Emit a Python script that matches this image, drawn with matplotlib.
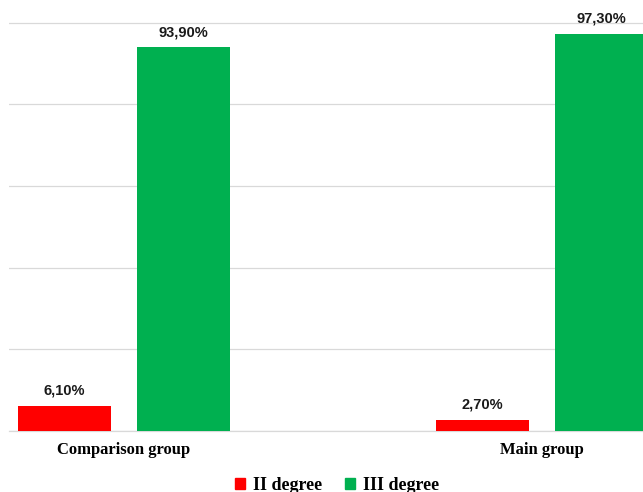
import matplotlib
matplotlib.use("Agg")
import matplotlib.pyplot as plt
from matplotlib.patches import Patch
import numpy as np

categories = ["Comparison group", "Main group"]
series_names = ["II degree", "III degree"]
ii_degree = [6.1, 2.7]
iii_degree = [93.9, 97.3]
colors = ["#FF0000", "#00B050"]

W, H = 643, 492
fig = plt.figure(figsize=(W / 100, H / 100), dpi=100)
ax_left = 9 / W
ax_bottom = (H - 431) / H
ax = fig.add_axes([ax_left, ax_bottom, 1 - ax_left, 1 - ax_bottom])

x = np.arange(len(categories))
width = 0.2225
offset = 0.1423
b1 = ax.bar(x - offset, ii_degree, width, color=colors[0], zorder=3)
b2 = ax.bar(x + offset, iii_degree, width, color=colors[1], zorder=3)

def fmt(v):
    return f"{v:.2f}".replace(".", ",") + "%"

for bars, vals in ((b1, ii_degree), (b2, iii_degree)):
    for rect, v in zip(bars, vals):
        ax.annotate(fmt(v), (rect.get_x() + rect.get_width() / 2, v),
                    xytext=(0, 6), textcoords="offset points",
                    ha="center", va="bottom", fontsize=10.5, fontweight="bold",
                    family="Liberation Sans", color="#1A1A1A")

ax.set_xlim((9 - 124) / 418, (643 - 124) / 418)
ax.set_ylim(0, 431 / 4.085)
ax.set_yticks([0, 20, 40, 60, 80, 100])
ax.yaxis.grid(True, color="#D9D9D9", linewidth=0.9, zorder=0)
ax.tick_params(axis="y", left=False, labelleft=False)
ax.tick_params(axis="x", bottom=False, length=0, pad=8)
ax.set_xticks(x)
ax.set_xticklabels(categories, fontsize=12, fontweight="bold", family="Liberation Serif")
for s in ("top", "right", "left"):
    ax.spines[s].set_visible(False)
ax.spines["bottom"].set_color("#D9D9D9")
ax.spines["bottom"].set_linewidth(0.9)

handles = [Patch(color=c, label=n) for c, n in zip(colors, series_names)]
fig.legend(handles=handles, loc="center", bbox_to_anchor=(337 / W, (H - 485) / H),
           ncol=2, frameon=False, handlelength=0.55, handleheight=0.55,
           handletextpad=0.45, columnspacing=1.3,
           prop={"family": "Liberation Serif", "weight": "bold", "size": 13})

fig.savefig("out.png", dpi=100)
